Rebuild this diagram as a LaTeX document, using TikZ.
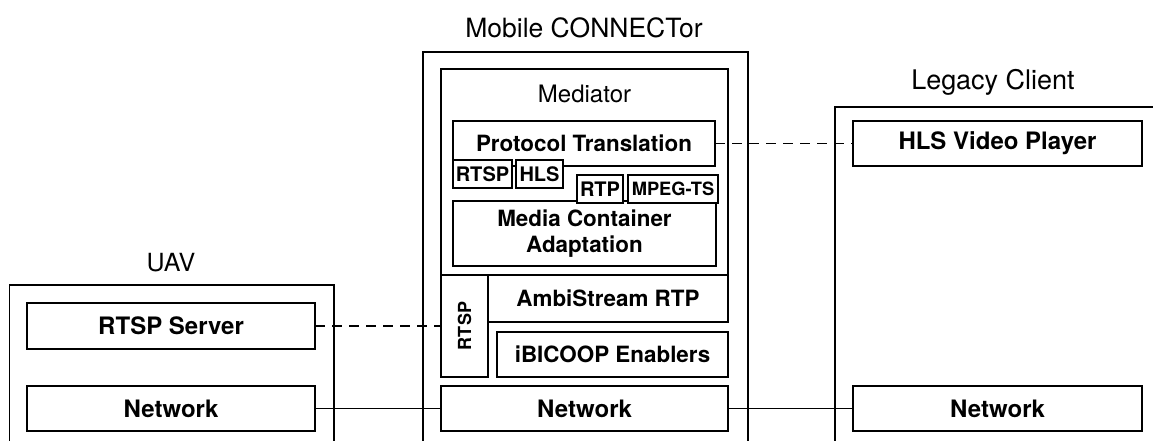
\documentclass[tikz,border=0pt]{standalone}
\usepackage{fontspec}
\setmainfont{TeX Gyre Heros}
\begin{document}
\begin{tikzpicture}[x=1pt,y=-1pt,line width=1.8pt,
  box/.style={draw, fill=white, inner sep=0pt, outer sep=0pt, align=center},
  bigb/.style={box, font=\bfseries\fontsize{24}{28}\selectfont},
  midb/.style={box, font=\bfseries\fontsize{22.4}{26}\selectfont},
  smallb/.style={box, font=\bfseries\fontsize{20}{24}\selectfont},
  lbl/.style={inner sep=0pt, font=\fontsize{25}{30}\selectfont},
  dashline/.style={line width=1.5pt, dash pattern=on 10pt off 7pt},
  solidline/.style={line width=1.5pt}]
\useasboundingbox (0,0) rectangle (1153,441);
% outer containers (open at bottom)
\draw (9.5,445) -- (9.5,285) -- (334,285) -- (334,445);
\draw (423,445) -- (423,52) -- (748,52) -- (748,445);
\draw (835,445) -- (835,107) -- (1160,107) -- (1160,445);
\node[lbl] (uavlbl) at (171,263) {UAV};
\node[lbl, font=\fontsize{26.5}{30}\selectfont] (moblbl) at (584,28) {Mobile CONNECTor};
\node[lbl, font=\fontsize{27}{30}\selectfont] (leglbl) at (993,82) {Legacy Client};
% mediator
\node[draw, inner sep=0pt, outer sep=0pt, minimum width=287pt, minimum height=206pt] (med) at (584.5,172) {};
\node[lbl, font=\fontsize{24}{28}\selectfont] (medlbl) at (584.5,94) {Mediator};
% nodes
\node[bigb, minimum width=288pt, minimum height=46pt] (rtspserver) at (171,326) {RTSP Server};
\node[bigb, minimum width=288pt, minimum height=45pt] (uavnet) at (171,408.5) {Network};
\node[midb, minimum width=262pt, minimum height=45pt] (prot) at (584,143.5) {Protocol Translation};
\node[midb, minimum width=263pt, minimum height=65pt] (media) at (584.5,233.5) {Media Container\\Adaptation};
\node[smallb, minimum width=59pt, minimum height=28pt] (rtsps) at (482.5,174) {RTSP};
\node[smallb, minimum width=47pt, minimum height=28pt] (hls) at (539.5,174) {HLS};
\node[smallb, minimum width=46pt, minimum height=28pt] (rtp) at (600,189) {RTP};
\node[smallb, minimum width=90pt, minimum height=28pt, font=\bfseries\fontsize{18.3}{22}\selectfont] (mpeg) at (673,189) {MPEG-TS};
\node[box, minimum width=47pt, minimum height=102pt] (rtspv) at (464.5,326) {};
\node[inner sep=0pt, rotate=90, font=\bfseries\fontsize{18}{22}\selectfont] (rtspvt) at (rtspv.center) {RTSP};
\node[midb, minimum width=240pt, minimum height=47pt] (ambi) at (608,298.5) {AmbiStream RTP};
\node[midb, minimum width=231pt, minimum height=45pt] (ibicoop) at (612.5,354.5) {iBICOOP Enablers};
\node[bigb, minimum width=287pt, minimum height=45pt] (midnet) at (584.5,408.5) {Network};
\node[bigb, minimum width=289pt, minimum height=45pt] (hlsplayer) at (997.5,143.5) {HLS Video Player};
\node[bigb, minimum width=289pt, minimum height=45pt] (legnet) at (997.5,408.5) {Network};
% connectors
\draw[dashline] (rtspserver.east) -- (rtspv.west);
\draw[dashline] (prot.east) -- (hlsplayer.west);
\draw[solidline] (uavnet.east) -- (midnet.west);
\draw[solidline] (midnet.east) -- (legnet.west);
\end{tikzpicture}
\end{document}
